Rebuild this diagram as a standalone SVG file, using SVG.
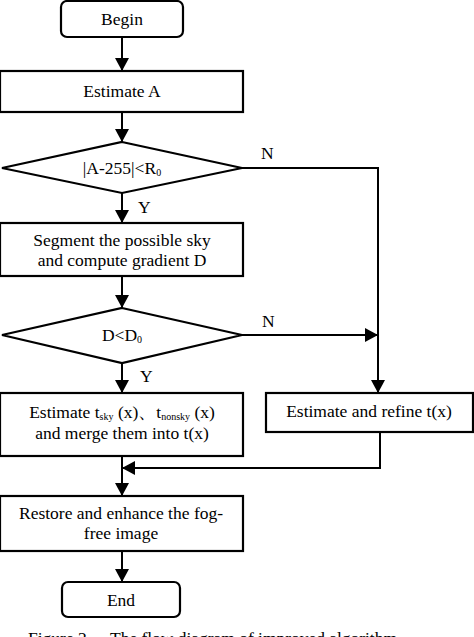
<svg xmlns="http://www.w3.org/2000/svg" width="474" height="637" viewBox="0 0 474 637">
<style>
.box{fill:#fff;stroke:#000;stroke-width:2.2}
.ln{fill:none;stroke:#000;stroke-width:2}
text{font-family:"Liberation Serif","Times New Roman",serif;font-size:17.5px;fill:#000}
.c{text-anchor:middle}
.sub{font-size:10px}
</style>
<defs>
<marker id="ah" markerUnits="userSpaceOnUse" markerWidth="14" markerHeight="14" viewBox="0 0 14 14" refX="13" refY="7" orient="auto">
<path d="M0,0 L13,7 L0,14 Z" fill="#000"/>
</marker>
</defs>
<rect width="474" height="637" fill="#fff"/>
<g id="connectors">
<path class="ln" d="M122,38 V71" marker-end="url(#ah)"/>
<path class="ln" d="M122,112 V142" marker-end="url(#ah)"/>
<path class="ln" d="M122,193 V223" marker-end="url(#ah)"/>
<path class="ln" d="M122,276 V308" marker-end="url(#ah)"/>
<path class="ln" d="M122,363 V393" marker-end="url(#ah)"/>
<path class="ln" d="M242,168 H378 V393" marker-end="url(#ah)"/>
<path class="ln" d="M242,335 H378" marker-end="url(#ah)"/>
<path class="ln" d="M380,432 V468 H122" marker-end="url(#ah)"/>
<path class="ln" d="M122,456 V496" marker-end="url(#ah)"/>
<path class="ln" d="M122,551 V582" marker-end="url(#ah)"/>
<text x="261" y="159">N</text>
<text x="138" y="213">Y</text>
<text x="262" y="327">N</text>
<text x="140" y="382">Y</text>
</g>
<g id="begin">
<rect class="box" x="61" y="1" width="122" height="36" rx="6"/>
<text class="c" x="122" y="25">Begin</text>
</g>
<g id="estimateA">
<rect class="box" x="0" y="71" width="243" height="41"/>
<text class="c" x="122" y="97">Estimate A</text>
</g>
<g id="decision1">
<path class="box" d="M122,142 L242,168 L122,193 L2,168 Z"/>
<text class="c" x="122" y="174">|A-255|&lt;R<tspan class="sub" dy="2">0</tspan></text>
</g>
<g id="segment">
<rect class="box" x="0" y="223" width="243" height="53"/>
<text class="c" x="122" y="246">Segment the possible sky</text>
<text class="c" x="122" y="266">and compute gradient D</text>
</g>
<g id="decision2">
<path class="box" d="M122,308 L242,335 L122,363 L2,335 Z"/>
<text class="c" x="122" y="341">D&lt;D<tspan class="sub" dy="2">0</tspan></text>
</g>
<g id="estimateSky">
<rect class="box" x="0" y="393" width="243" height="63"/>
<text class="c" x="122" y="418">Estimate t<tspan class="sub" dy="2">sky</tspan><tspan dy="-2"> (x)、t</tspan><tspan class="sub" dy="2">nonsky</tspan><tspan dy="-2"> (x)</tspan></text>
<text class="c" x="122" y="439">and merge them into t(x)</text>
</g>
<g id="refine">
<rect class="box" x="266" y="393" width="207" height="39"/>
<text class="c" x="369" y="417">Estimate and refine t(x)</text>
</g>
<g id="restore">
<rect class="box" x="0" y="496" width="243" height="55"/>
<text class="c" x="121" y="519">Restore and enhance the fog-</text>
<text class="c" x="121" y="539">free image</text>
</g>
<g id="end">
<rect class="box" x="62" y="582" width="118" height="35" rx="6"/>
<text class="c" x="121" y="606">End</text>
</g>
<g id="caption">
<text x="28" y="643.5">Figure 2</text>
<text x="110" y="643.5" textLength="287">The flow diagram of improved algorithm</text>
</g>
</svg>
